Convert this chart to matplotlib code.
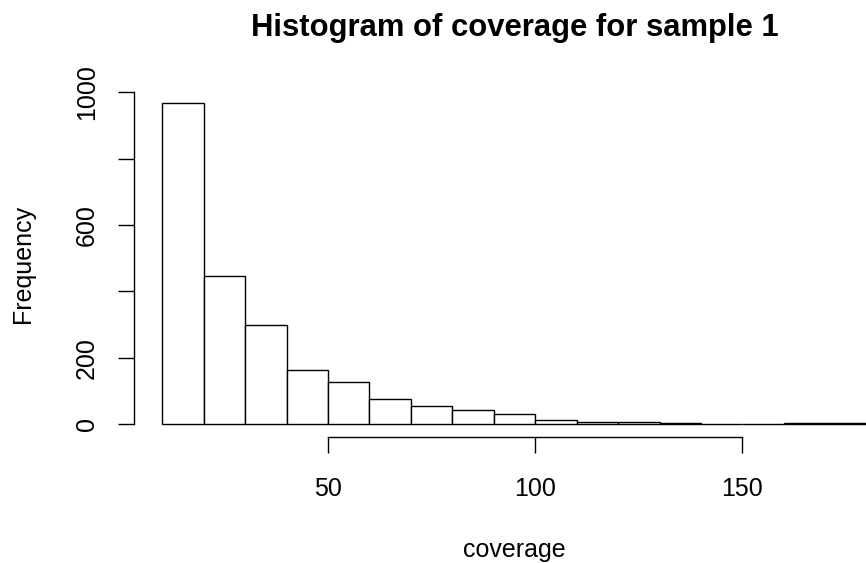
import numpy as np
import matplotlib
matplotlib.use("Agg")
import matplotlib.pyplot as plt

plt.rcParams['font.family'] = ['Liberation Sans', 'DejaVu Sans']

# Histogram bins (coverage) and counts
breaks = [10, 20, 30, 40, 50, 60, 70, 80, 90, 100, 110, 120, 130, 140, 150, 160, 170, 180]
counts = [967, 447, 299, 163, 127, 76, 55, 41, 29, 11, 6, 5, 3, 1, 1, 2, 2]
x_ticks = [50, 100, 150]
y_ticks = [0, 200, 400, 600, 800, 1000]
y_tick_labels = ['0', '200', '', '600', '', '1000']

W, H = 866, 563
fig = plt.figure(figsize=(W / 100, H / 100), dpi=100)

# Plot region in pixels (left, right, top, bottom); extends past the right edge
pl, pr, pt, pb = 134, 895, 90.4, 436.8
ax = fig.add_axes([pl / W, (H - pb) / H, (pr - pl) / W, (pb - pt) / H])

edges = np.array(breaks, dtype=float)
ax.bar(edges[:-1], counts, width=np.diff(edges), align='edge',
       facecolor='white', edgecolor='black', linewidth=1.0)

# R-style 4% range extension
xr = edges[-1] - edges[0]
ax.set_xlim(edges[0] - 0.04 * xr, edges[-1] + 0.04 * xr)
ymax = max(counts)
ax.set_ylim(-0.04 * ymax, ymax * 1.04)

for s in ['top', 'right']:
    ax.spines[s].set_visible(False)
ax.spines['bottom'].set_bounds(x_ticks[0], x_ticks[-1])
ax.spines['left'].set_bounds(y_ticks[0], y_ticks[-1])
for s in ['bottom', 'left']:
    ax.spines[s].set_linewidth(1.0)

ax.set_xticks(x_ticks)
ax.set_xticklabels([str(v) for v in x_ticks], fontsize=18)
ax.set_yticks(y_ticks)
ax.set_yticklabels(y_tick_labels, fontsize=18, rotation=90, va='center')
ax.tick_params(axis='both', direction='out', length=11.7, width=1.0)
ax.tick_params(axis='x', pad=17)
ax.tick_params(axis='y', pad=13.5)

axh = pb - pt
axw = pr - pl
ax.text(0.5, 1 + (pt - 36) / axh, 'Histogram of coverage for sample 1',
        transform=ax.transAxes, ha='center', va='baseline',
        fontsize=22.3, fontweight='bold')
ax.text(0.5, -(557.5 - pb) / axh, 'coverage', transform=ax.transAxes,
        ha='center', va='baseline', fontsize=18)
ax.text((23 - pl) / axw, 0.5, 'Frequency', transform=ax.transAxes,
        ha='center', va='center', rotation=90, fontsize=18)

fig.savefig('out.png', dpi=100)
